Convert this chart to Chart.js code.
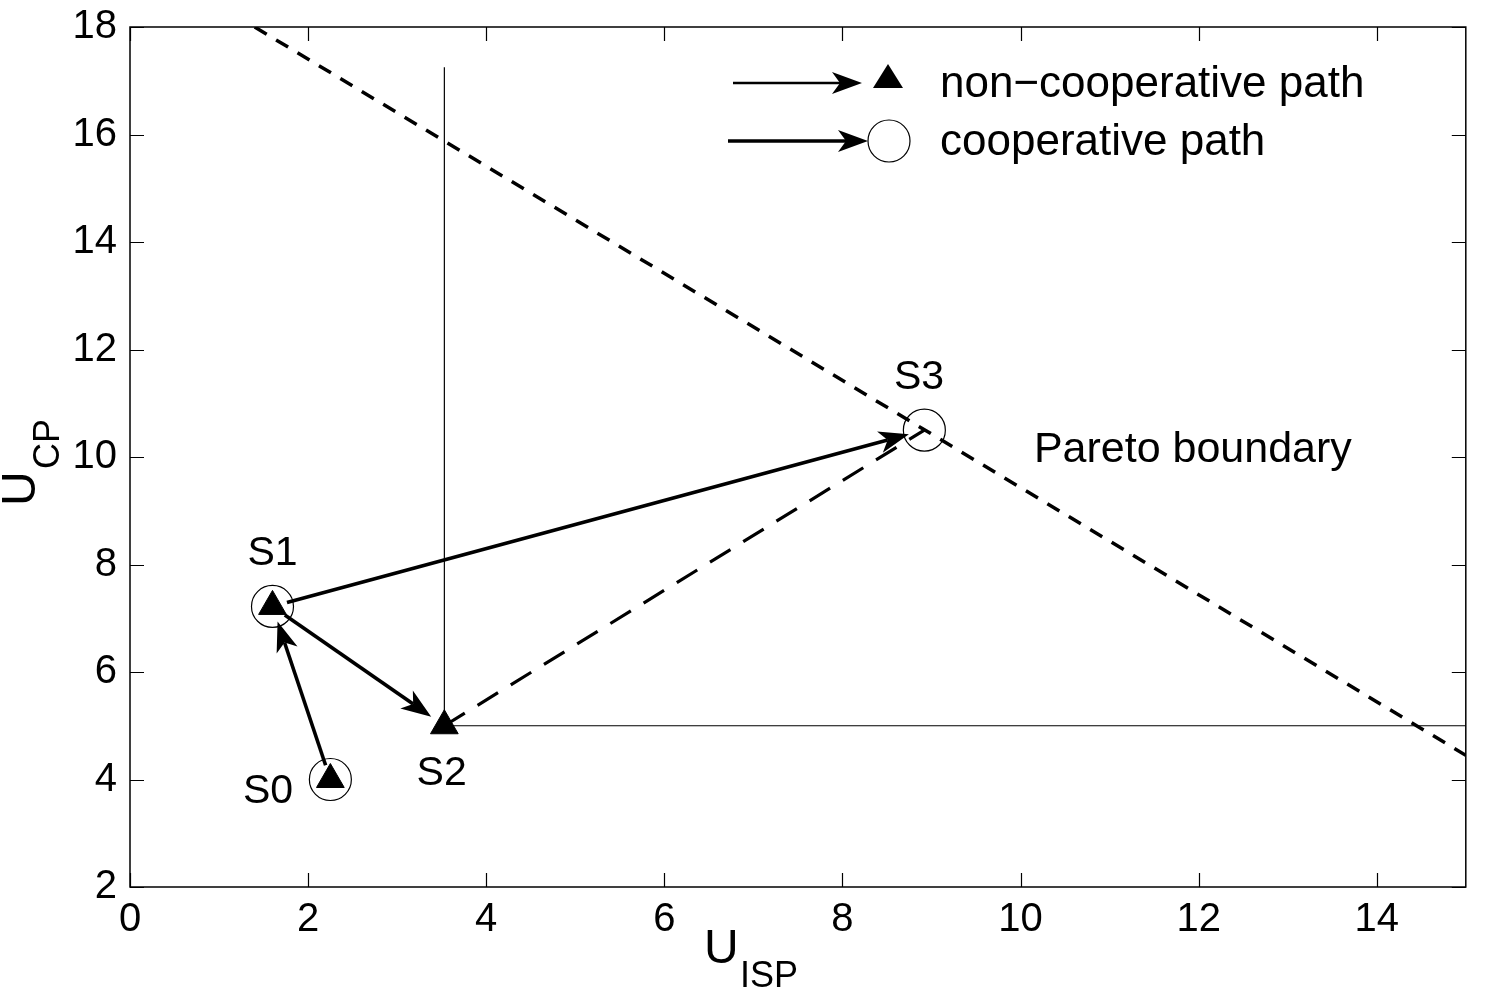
<!DOCTYPE html>
<html>
<head>
<meta charset="utf-8">
<script src="https://cdn.jsdelivr.net/npm/chart.js@4"></script>
<style>
  html, body { margin: 0; padding: 0; background: #fff; }
  #wrap { width: 1488px; height: 993px; position: relative; }
</style>
</head>
<body>
<div id="wrap"><canvas id="chart"></canvas></div>
<script>
// axis ticks
const xTicks = [0, 2, 4, 6, 8, 10, 12, 14];
const yTicks = [2, 4, 6, 8, 10, 12, 14, 16, 18];

// game states (U_ISP, U_CP)
const stateNames = ['S0', 'S1', 'S2', 'S3'];
const stateX = [2.25, 1.6, 3.53, 8.92];
const stateY = [4.0, 7.22, 5.0, 10.5];

// which states sit on each path
const nonCoopStates = ['S0', 'S1', 'S2'];
const coopStates = ['S0', 'S1', 'S3'];

// arrows between states
const arrowFrom = ['S0', 'S1', 'S1'];
const arrowTo = ['S1', 'S2', 'S3'];

// dashed link S2 -> S3
const dashedLink = ['S2', 'S3'];

// Pareto boundary
const paretoX = [1.4, 15];
const paretoY = [18, 4.45];

// thin L shaped bound through S2
const boundX = [3.53, 3.53, 15];
const boundY = [17.25, 5, 5];

// state label anchors (data units)
const labelX = [1.55, 1.6, 3.5, 8.86];
const labelY = [3.77, 8.21, 4.1, 11.47];
const paretoLabel = 'Pareto boundary';
const paretoLabelX = 10.15;
const paretoLabelY = 10.13;

const FONT = '"Liberation Sans", Arial, Helvetica, sans-serif';
const idx = n => stateNames.indexOf(n);
const pt = n => ({ x: stateX[idx(n)], y: stateY[idx(n)] });

function arrowHead(ctx, tx, ty, ux, uy, len, half, notch) {
  const px = -uy, py = ux;
  ctx.beginPath();
  ctx.moveTo(tx, ty);
  ctx.lineTo(tx - len * ux + half * px, ty - len * uy + half * py);
  ctx.lineTo(tx - (len - notch) * ux, ty - (len - notch) * uy);
  ctx.lineTo(tx - len * ux - half * px, ty - len * uy - half * py);
  ctx.closePath();
  ctx.fill();
}

function drawArrow(ctx, x0, y0, x1, y1, width, startGap, endGap) {
  const dx = x1 - x0, dy = y1 - y0;
  const d = Math.hypot(dx, dy);
  const ux = dx / d, uy = dy / d;
  const sx = x0 + ux * startGap, sy = y0 + uy * startGap;
  const tx = x1 - ux * endGap, ty = y1 - uy * endGap;
  const len = 30, half = 11, notch = 8;
  ctx.save();
  ctx.strokeStyle = '#000';
  ctx.fillStyle = '#000';
  ctx.lineWidth = width;
  ctx.beginPath();
  ctx.moveTo(sx, sy);
  ctx.lineTo(tx - (len - notch) * ux, ty - (len - notch) * uy);
  ctx.stroke();
  arrowHead(ctx, tx, ty, ux, uy, len, half, notch);
  ctx.restore();
}

const decorations = {
  id: 'decorations',
  afterDatasetsDraw(chart) {
    const ctx = chart.ctx;
    const xs = chart.scales.x, ys = chart.scales.y;
    const a = chart.chartArea;

    // frame with inward ticks
    ctx.save();
    ctx.strokeStyle = '#000';
    ctx.lineWidth = 1.5;
    ctx.strokeRect(a.left, a.top, a.right - a.left, a.bottom - a.top);
    ctx.lineWidth = 1.2;
    ctx.beginPath();
    xTicks.forEach(v => {
      const px = Math.round(xs.getPixelForValue(v)) + 0.5;
      ctx.moveTo(px, a.bottom); ctx.lineTo(px, a.bottom - 14);
      ctx.moveTo(px, a.top); ctx.lineTo(px, a.top + 14);
    });
    yTicks.forEach(v => {
      const py = Math.round(ys.getPixelForValue(v)) + 0.5;
      ctx.moveTo(a.left, py); ctx.lineTo(a.left + 14, py);
      ctx.moveTo(a.right, py); ctx.lineTo(a.right - 14, py);
    });
    ctx.stroke();
    ctx.restore();

    // path arrows
    arrowFrom.forEach((f, i) => {
      const p0 = pt(f), p1 = pt(arrowTo[i]);
      drawArrow(ctx,
        xs.getPixelForValue(p0.x), ys.getPixelForValue(p0.y),
        xs.getPixelForValue(p1.x), ys.getPixelForValue(p1.y),
        3.6, 15, 16);
    });

    // state labels
    ctx.save();
    ctx.fillStyle = '#000';
    ctx.font = '41px ' + FONT;
    ctx.textAlign = 'center';
    ctx.textBaseline = 'middle';
    stateNames.forEach((n, i) => {
      ctx.fillText(n, xs.getPixelForValue(labelX[i]), ys.getPixelForValue(labelY[i]));
    });
    ctx.textAlign = 'left';
    ctx.font = '43px ' + FONT;
    ctx.fillText(paretoLabel, xs.getPixelForValue(paretoLabelX), ys.getPixelForValue(paretoLabelY));
    ctx.restore();

    // legend
    ctx.save();
    drawArrow(ctx, 733, 83, 862, 83, 2.4, 0, 0);
    drawArrow(ctx, 728, 141, 868, 141, 3.6, 0, 0);
    ctx.fillStyle = '#000';
    ctx.beginPath();
    ctx.moveTo(888, 64); ctx.lineTo(903, 88); ctx.lineTo(873, 88); ctx.closePath();
    ctx.fill();
    ctx.lineWidth = 1.2;
    ctx.beginPath();
    ctx.arc(889, 141, 21, 0, Math.PI * 2);
    ctx.stroke();
    ctx.font = '44px ' + FONT;
    ctx.textBaseline = 'alphabetic';
    ctx.fillText('non\u2212cooperative path', 940, 97);
    ctx.fillText('cooperative path', 940, 155);
    ctx.restore();

    // axis titles with subscripts
    ctx.save();
    ctx.fillStyle = '#000';
    ctx.textBaseline = 'alphabetic';
    ctx.textAlign = 'left';
    ctx.font = '48px ' + FONT;
    ctx.fillText('U', 704, 963);
    ctx.font = '36px ' + FONT;
    ctx.fillText('ISP', 740, 987);
    ctx.translate(35, 506);
    ctx.rotate(-Math.PI / 2);
    ctx.font = '48px ' + FONT;
    ctx.fillText('U', 0, 0);
    ctx.font = '36px ' + FONT;
    ctx.fillText('CP', 37, 24);
    ctx.restore();
  }
};

const ctx = document.getElementById('chart').getContext('2d');
new Chart(ctx, {
  type: 'scatter',
  data: {
    datasets: [
      {
        label: 'Pareto boundary',
        data: paretoX.map((x, i) => ({ x, y: paretoY[i] })),
        showLine: true,
        borderColor: '#000',
        borderWidth: 3.5,
        borderDash: [14, 11],
        pointRadius: 0
      },
      {
        label: 'bound',
        data: boundX.map((x, i) => ({ x, y: boundY[i] })),
        showLine: true,
        borderColor: '#000',
        borderWidth: 1.2,
        pointRadius: 0
      },
      {
        label: 'S2-S3',
        data: dashedLink.map(pt),
        showLine: true,
        borderColor: '#000',
        borderWidth: 3.2,
        borderDash: [24, 15],
        pointRadius: 0
      },
      {
        label: 'cooperative path',
        data: coopStates.map(pt),
        pointStyle: 'circle',
        pointRadius: 21,
        backgroundColor: 'rgba(0,0,0,0)',
        borderColor: '#000',
        borderWidth: 1.2
      },
      {
        label: 'non-cooperative path',
        data: nonCoopStates.map(pt),
        pointStyle: 'triangle',
        pointRadius: 16,
        backgroundColor: '#000',
        borderColor: '#000',
        borderWidth: 1
      }
    ]
  },
  options: {
    responsive: true,
    maintainAspectRatio: false,
    devicePixelRatio: 1,
    animation: false,
    layout: { padding: { left: 0, top: 27, right: 21, bottom: 0 } },
    plugins: {
      legend: { display: false },
      tooltip: { enabled: false }
    },
    scales: {
      x: {
        type: 'linear',
        min: 0,
        max: 15,
        afterBuildTicks: s => { s.ticks = xTicks.map(v => ({ value: v })); },
        afterFit: s => { s.height = 106; s.paddingLeft = 0; s.paddingRight = 0; },
        grid: { display: false, drawTicks: false },
        border: { display: false },
        ticks: { color: '#000', font: { size: 40, family: FONT }, padding: 9 }
      },
      y: {
        type: 'linear',
        min: 2,
        max: 18,
        afterBuildTicks: s => { s.ticks = yTicks.map(v => ({ value: v })); },
        afterFit: s => { s.width = 130; s.paddingTop = 0; s.paddingBottom = 0; },
        grid: { display: false, drawTicks: false },
        border: { display: false },
        ticks: { color: '#000', font: { size: 40, family: FONT }, padding: 13 }
      }
    }
  },
  plugins: [decorations]
});
</script>
</body>
</html>
